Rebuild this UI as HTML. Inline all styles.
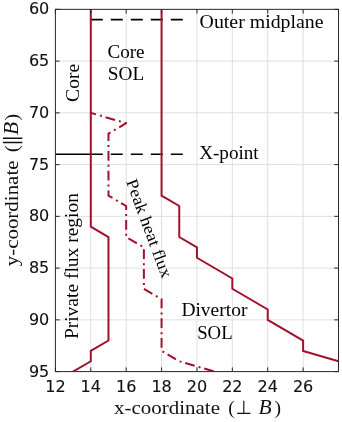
<!DOCTYPE html>
<html lang="en"><head><meta charset="utf-8"><title>Flux regions</title>
<style>
html,body{margin:0;padding:0;background:#fff;}
body{width:342px;height:422px;overflow:hidden;}
svg{display:block;}
.tk{font-family:"DejaVu Sans","Liberation Sans",sans-serif;font-size:16px;fill:#111;stroke:#111;stroke-width:0.12px;}
.tx{font-family:"Liberation Serif","DejaVu Serif",serif;font-size:18.5px;fill:#000;}
.lb{font-family:"Liberation Serif","DejaVu Serif",serif;font-size:19.6px;fill:#111;}
.sym{font-family:"DejaVu Math TeX Gyre","DejaVu Sans",serif;}
.sym2{font-family:"DejaVu Sans","DejaVu Serif",sans-serif;}
</style></head><body>
<svg width="342" height="422" viewBox="0 0 342 422">
<rect x="0" y="0" width="342" height="422" fill="#fff"/>
<path d="M90.79,9.35 V371.60 M126.18,9.35 V371.60 M161.56,9.35 V371.60 M196.95,9.35 V371.60 M232.34,9.35 V371.60 M267.73,9.35 V371.60 M303.11,9.35 V371.60 M55.40,61.10 H338.50 M55.40,112.85 H338.50 M55.40,164.60 H338.50 M55.40,216.35 H338.50 M55.40,268.10 H338.50 M55.40,319.85 H338.50" stroke="#dfdfdf" stroke-width="1" fill="none"/>
<clipPath id="c"><rect x="55.4" y="9.35" width="283.1" height="362.25"/></clipPath>
<g clip-path="url(#c)" fill="none">
<path d="M55.40,154.25 H90.79" stroke="#000" stroke-width="1.7"/>
<path d="M90.79,19.70 H182.79" stroke="#000" stroke-width="1.7" stroke-dasharray="12 8"/>
<path d="M90.79,154.25 H182.79" stroke="#000" stroke-width="1.7" stroke-dasharray="12 8"/>
<path d="M90.79,9.35 L90.79,226.70 L108.48,237.05 L108.48,340.55 L90.79,350.90 L90.79,361.25 L73.09,371.60 L55.40,381.95" stroke="#A21029" stroke-width="2" stroke-linejoin="miter"/>
<path d="M161.56,9.35 L161.56,195.65 L179.26,206.00 L179.26,237.05 L196.95,247.40 L196.95,257.75 L232.34,278.45 L232.34,288.80 L267.73,309.50 L267.73,319.85 L303.11,340.55 L303.11,350.90 L338.50,361.25" stroke="#A21029" stroke-width="2" stroke-linejoin="miter"/>
<path d="M90.79,112.85 L126.18,123.20 L108.48,133.55 L108.48,195.65 L126.18,206.00 L126.18,237.05 L143.87,247.40 L143.87,288.80 L161.56,299.15 L161.56,350.90 L179.26,361.25 L214.64,371.60" stroke="#A21029" stroke-width="2" stroke-dasharray="9.8 4.1 2 3.88" stroke-dashoffset="4.38" stroke-linejoin="round"/>
</g>
<path d="M55.40,371.60 v-4.2 M55.40,9.35 v4.2 M90.79,371.60 v-4.2 M90.79,9.35 v4.2 M126.18,371.60 v-4.2 M126.18,9.35 v4.2 M161.56,371.60 v-4.2 M161.56,9.35 v4.2 M196.95,371.60 v-4.2 M196.95,9.35 v4.2 M232.34,371.60 v-4.2 M232.34,9.35 v4.2 M267.73,371.60 v-4.2 M267.73,9.35 v4.2 M303.11,371.60 v-4.2 M303.11,9.35 v4.2 M338.50,371.60 v-4.2 M338.50,9.35 v4.2 M55.40,9.35 h4.2 M338.50,9.35 h-4.2 M55.40,61.10 h4.2 M338.50,61.10 h-4.2 M55.40,112.85 h4.2 M338.50,112.85 h-4.2 M55.40,164.60 h4.2 M338.50,164.60 h-4.2 M55.40,216.35 h4.2 M338.50,216.35 h-4.2 M55.40,268.10 h4.2 M338.50,268.10 h-4.2 M55.40,319.85 h4.2 M338.50,319.85 h-4.2 M55.40,371.60 h4.2 M338.50,371.60 h-4.2" stroke="#262626" stroke-width="1" fill="none"/>
<rect x="55.4" y="9.35" width="283.10" height="362.25" fill="none" stroke="#262626" stroke-width="1"/>
<text class="tk" x="55.40" y="392.1" text-anchor="middle">12</text>
<text class="tk" x="90.79" y="392.1" text-anchor="middle">14</text>
<text class="tk" x="126.18" y="392.1" text-anchor="middle">16</text>
<text class="tk" x="161.56" y="392.1" text-anchor="middle">18</text>
<text class="tk" x="196.95" y="392.1" text-anchor="middle">20</text>
<text class="tk" x="232.34" y="392.1" text-anchor="middle">22</text>
<text class="tk" x="267.73" y="392.1" text-anchor="middle">24</text>
<text class="tk" x="303.11" y="392.1" text-anchor="middle">26</text>
<text class="tk" x="49.3" y="14.35" text-anchor="end">60</text>
<text class="tk" x="49.3" y="66.10" text-anchor="end">65</text>
<text class="tk" x="49.3" y="117.85" text-anchor="end">70</text>
<text class="tk" x="49.3" y="169.60" text-anchor="end">75</text>
<text class="tk" x="49.3" y="221.35" text-anchor="end">80</text>
<text class="tk" x="49.3" y="273.10" text-anchor="end">85</text>
<text class="tk" x="49.3" y="324.85" text-anchor="end">90</text>
<text class="tk" x="49.3" y="376.60" text-anchor="end">95</text>
<text class="lb" y="413.7"><tspan x="114" textLength="106" lengthAdjust="spacingAndGlyphs">x-coordinate</tspan> <tspan x="228.2">(</tspan><tspan x="235.6" class="sym2" font-size="19">⊥</tspan> <tspan x="258.6" font-style="italic" font-size="21.5">B</tspan><tspan x="274.4">)</tspan></text>
<text class="lb" transform="translate(17.8,266.3) rotate(-90)" y="0"><tspan x="0" textLength="105.8" lengthAdjust="spacingAndGlyphs">y-coordinate</tspan> <tspan x="114.2">(</tspan><tspan x="121.25" dy="0.8" class="sym" font-size="23">∥</tspan><tspan x="131.2" dy="-0.8" font-style="italic" font-size="21.5">B</tspan><tspan x="145.9">)</tspan></text>
<text class="tx" x="199.6" y="27.8" textLength="124" lengthAdjust="spacingAndGlyphs">Outer midplane</text>
<text class="tx" x="199.2" y="158.8" textLength="59.4" lengthAdjust="spacingAndGlyphs">X-point</text>
<text class="tx" x="107.4" y="57.6" textLength="37.2" lengthAdjust="spacingAndGlyphs">Core</text>
<text class="tx" x="107.8" y="79.8" textLength="36.4" lengthAdjust="spacingAndGlyphs">SOL</text>
<text class="tx" x="181.4" y="316.4" textLength="66" lengthAdjust="spacingAndGlyphs">Divertor</text>
<text class="tx" x="197.2" y="339.1" textLength="35.4" lengthAdjust="spacingAndGlyphs">SOL</text>
<text class="tx" transform="translate(79.0,101.9) rotate(-90)" textLength="38.2" lengthAdjust="spacingAndGlyphs">Core</text>
<text class="tx" transform="translate(77.8,339.1) rotate(-90)" textLength="146" lengthAdjust="spacingAndGlyphs">Private flux region</text>
<text class="tx" style="font-size:16.8px" transform="translate(126.0,181.6) rotate(69.7)" textLength="104" lengthAdjust="spacingAndGlyphs">Peak heat flux</text>
</svg>
</body></html>
